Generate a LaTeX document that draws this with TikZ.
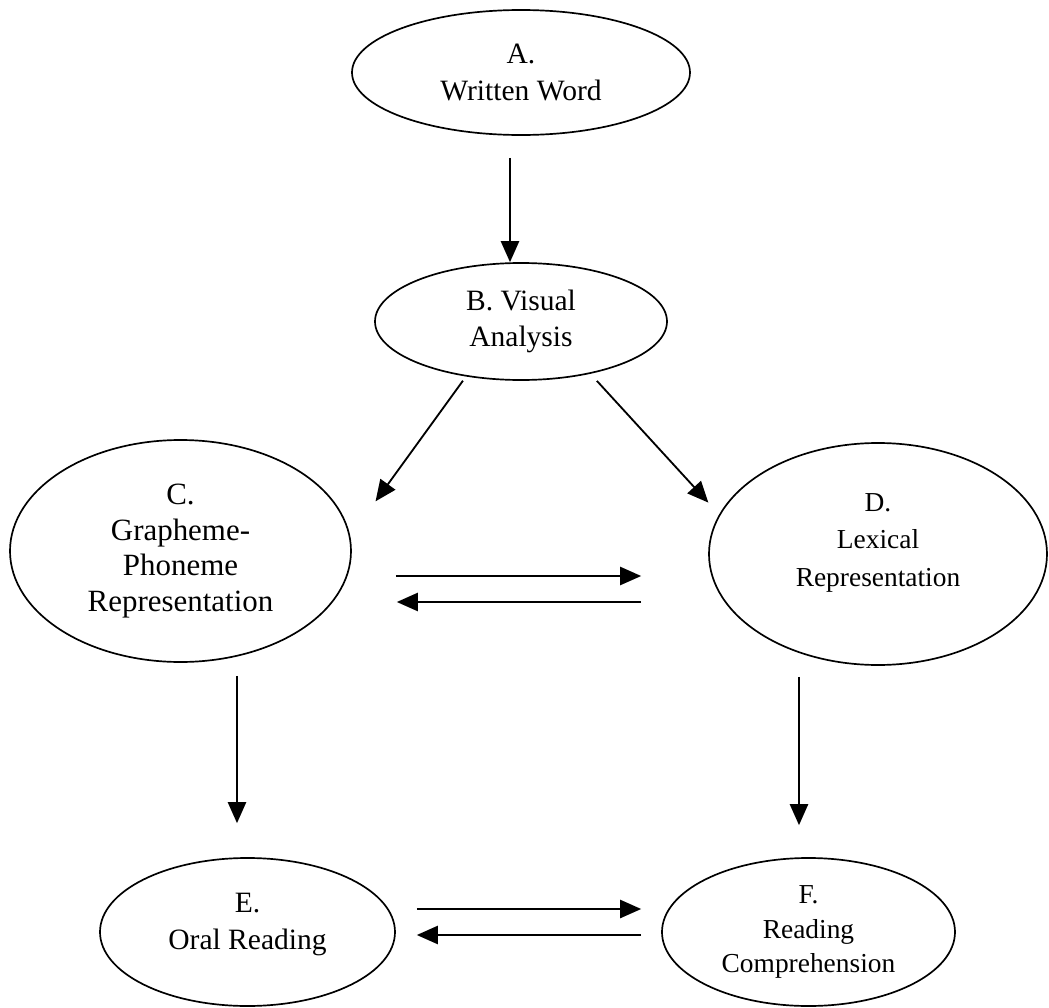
\documentclass[tikz,border=0pt]{standalone}
\usepackage{fontspec}
\setmainfont{Liberation Serif}
\usetikzlibrary{shapes.geometric, arrows.meta}

\begin{document}
\begin{tikzpicture}[
  font=\fontsize{21}{26}\selectfont,
  ovale/.style={draw=black, ellipse, line width=1.2pt, align=center, inner sep=0pt},
  freccia/.style={draw=black, line width=1.3pt, -{Triangle[length=15pt,width=13pt]}}
]

\useasboundingbox (0,0) rectangle (26.225,-25.2);

\node[ovale, minimum width=8.45cm, minimum height=3.125cm] (A) at (13.025,-1.8125) {A.\\ Written Word};
\node[ovale, minimum width=7.3cm,  minimum height=2.925cm] (B) at (13.025,-8.0375) {B. Visual\\ Analysis};
\node[ovale, minimum width=8.525cm, minimum height=5.55cm, font=\fontsize{22}{25.5}\selectfont]
  (C) at (4.5125,-13.775) {C.\\ Grapheme-\\ Phoneme\\ Representation};
\node[ovale, minimum width=8.45cm, minimum height=5.55cm, font=\fontsize{19.5}{26.5}\selectfont, text depth=20pt]
  (D) at (21.95,-13.85) {D.\\ Lexical\\ Representation};
\node[ovale, minimum width=7.375cm, minimum height=3.7cm, text depth=15pt] (E) at (6.1875,-23.3) {E.\\ Oral Reading};
\node[ovale, minimum width=7.325cm, minimum height=3.7cm, font=\fontsize{19.5}{24.5}\selectfont]
  (F) at (20.2125,-23.3) {F.\\ Reading\\ Comprehension};

% dall'alto
\draw[freccia, shorten <=0.55cm] ([xshift=-0.275cm]A.south) -- ([xshift=-0.275cm]A.south |- B.north);
\draw[freccia, shorten <=0.13cm, shorten >=1.075cm] (B.225) -- (C.5);
\draw[freccia, shorten <=0.24cm, shorten >=0.4cm] (B.323) -- (D.166);

% C <-> D
\draw[freccia, shorten <=1.1cm, shorten >=1.675cm] ([yshift=-0.625cm]C.east) -- ([yshift=-0.625cm]C.east -| D.west);
\draw[freccia, shorten <=1.675cm, shorten >=1.125cm] ([yshift=-1.275cm]C.east -| D.west) -- ([yshift=-1.275cm]C.east);

% verso il basso
\draw[freccia, shorten <=0.325cm, shorten >=0.85cm] ([xshift=1.4125cm]C.south) -- ([xshift=1.4125cm]C.south |- E.north);
\draw[freccia, shorten <=0.275cm, shorten >=0.8cm] ([xshift=-1.975cm]D.south) -- ([xshift=-1.975cm]D.south |- F.north);

% E <-> F
\draw[freccia, shorten <=0.525cm, shorten >=0.5cm] ([yshift=0.575cm]E.east) -- ([yshift=0.575cm]E.east -| F.west);
\draw[freccia, shorten <=0.5cm, shorten >=0.525cm] ([yshift=-0.075cm]E.east -| F.west) -- ([yshift=-0.075cm]E.east);

\end{tikzpicture}
\end{document}
